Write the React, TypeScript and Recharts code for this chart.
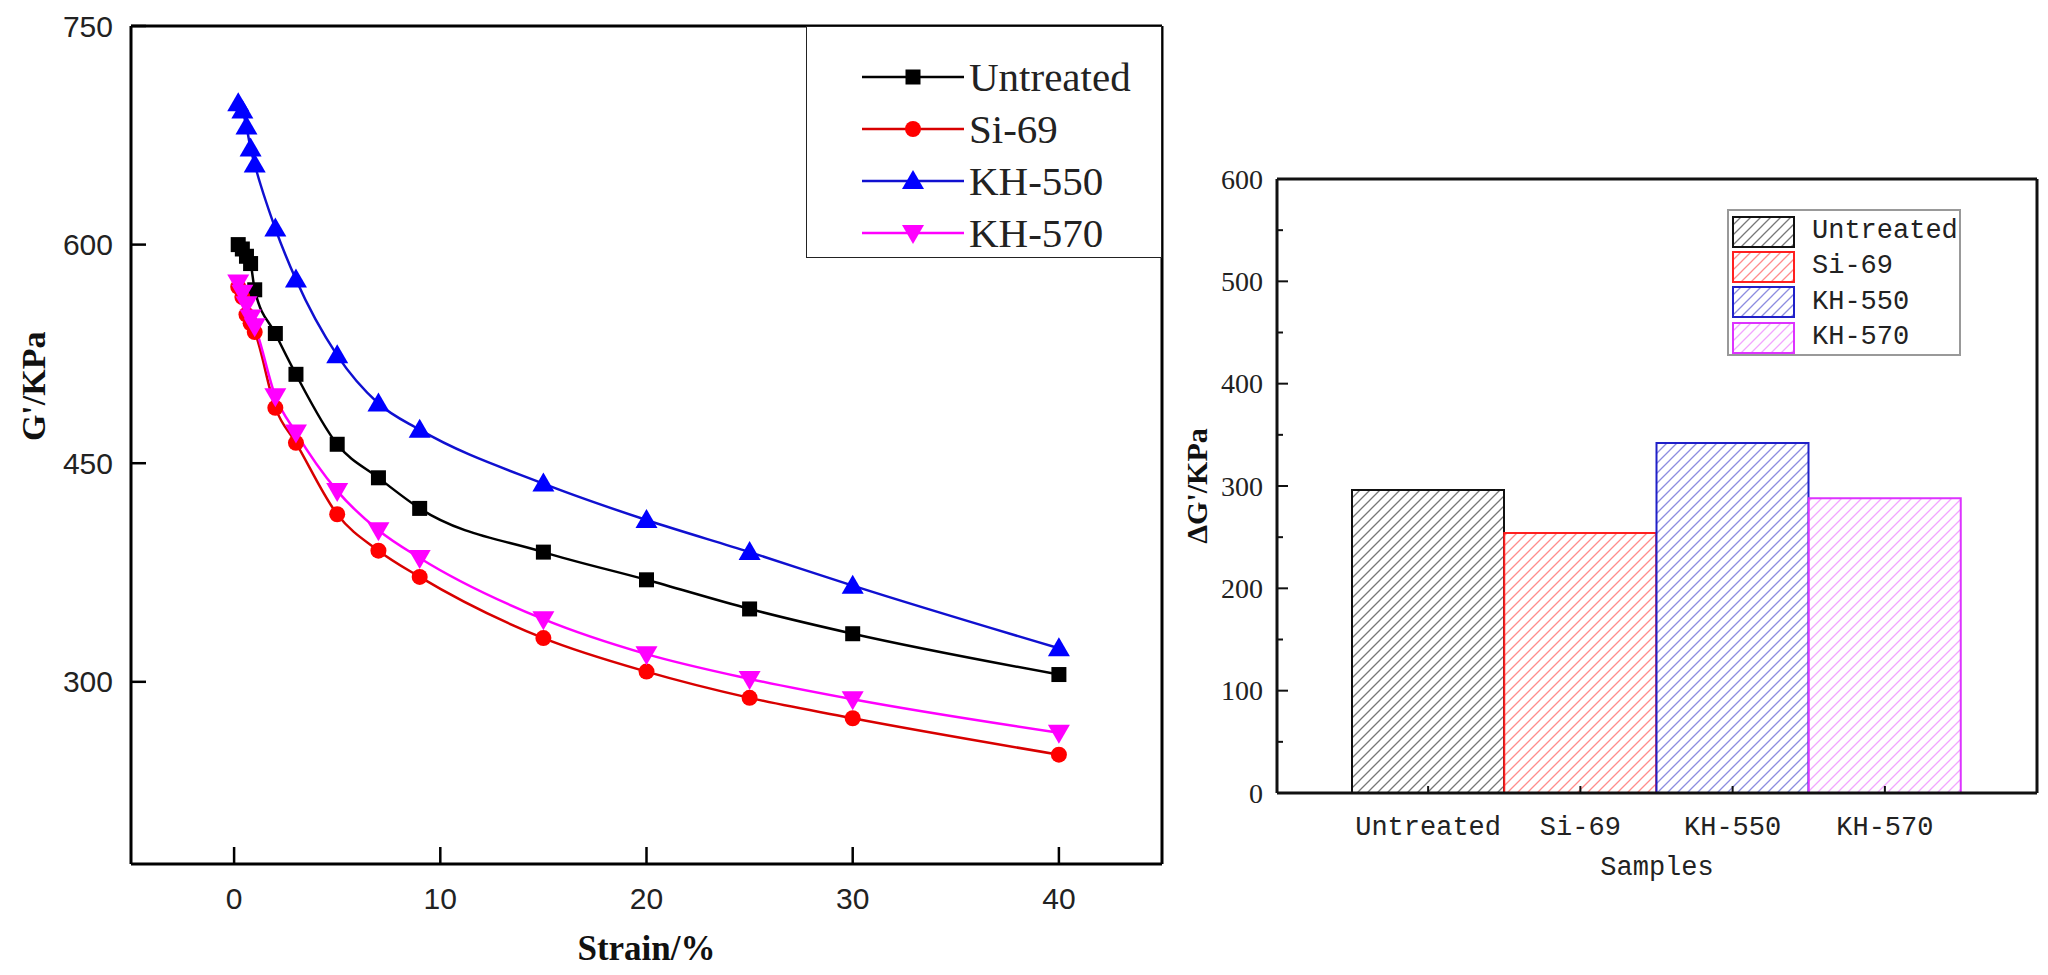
import React from "react";
import { LineChart, Line, BarChart, Bar, Cell, XAxis, YAxis, Legend } from "recharts";

// ─── Data ────────────────────────────────────────────────────────────────────

const STRAIN = [0.2, 0.4, 0.6, 0.8, 1, 2, 3, 5, 7, 9, 15, 20, 25, 30, 40];
const G_UNTREATED = [600, 597, 592, 587, 569, 539, 511, 463, 440, 419, 389, 370, 350, 333, 305];
const G_SI69 = [571, 564, 552, 546, 540, 488, 464, 415, 390, 372, 330, 307, 289, 275, 250];
const G_KH550 = [697, 692, 681, 666, 655, 611, 576, 524, 491, 473, 436, 411, 389, 366, 323];
const G_KH570 = [574, 567, 559, 550, 544, 496, 471, 431, 404, 385, 343, 319, 302, 288, 265];
const STRAIN_TICKS = [0, 10, 20, 30, 40];
const G_TICKS = [300, 450, 600, 750];

const SAMPLES = ["Untreated", "Si-69", "KH-550", "KH-570"];
const DELTA_G = [296, 254, 342, 288];
const DELTA_TICKS = [0, 50, 100, 150, 200, 250, 300, 350, 400, 450, 500, 550, 600];

// ─── Styles ──────────────────────────────────────────────────────────────────

const SERIES = [
  { name: "Untreated", values: G_UNTREATED, line: "#000000", mark: "#000000", shape: "square" },
  { name: "Si-69", values: G_SI69, line: "#d80000", mark: "#ff0000", shape: "circle" },
  { name: "KH-550", values: G_KH550, line: "#1010d0", mark: "#0000ff", shape: "up" },
  { name: "KH-570", values: G_KH570, line: "#ff00ff", mark: "#ff00ff", shape: "down" },
];

const BAR_STYLE = [
  { stroke: "#111111", hatch: "#777777" },
  { stroke: "#ff2020", hatch: "#ff8c8c" },
  { stroke: "#2020c8", hatch: "#8c8ce0" },
  { stroke: "#dd33ff", hatch: "#f2a6ff" },
];

const SANS = "'Liberation Sans', Arial, sans-serif";
const SERIF = "'Liberation Serif', 'Times New Roman', serif";
const MONO = "'Liberation Mono', 'DejaVu Sans Mono', monospace";

// ─── Markers ─────────────────────────────────────────────────────────────────

function Marker({ cx, cy, shape, color }: { cx?: number; cy?: number; shape: string; color: string }) {
  if (cx == null || cy == null) return null;
  if (shape === "square") return <rect x={cx - 7.5} y={cy - 7.5} width={15} height={15} fill={color} />;
  if (shape === "circle") return <circle cx={cx} cy={cy} r={8} fill={color} />;
  if (shape === "up") return <polygon points={`${cx},${cy - 11} ${cx - 11},${cy + 8} ${cx + 11},${cy + 8}`} fill={color} />;
  return <polygon points={`${cx - 11},${cy - 8} ${cx + 11},${cy - 8} ${cx},${cy + 11}`} fill={color} />;
}

// ─── Left chart pieces ───────────────────────────────────────────────────────

function StrainTick({ x, y, payload }: any) {
  return (
    <g>
      <line x1={x} x2={x} y1={y} y2={y - 17} stroke="#000" strokeWidth={2.5} />
      <text x={x} y={y + 34} dy="0.35em" textAnchor="middle" fontFamily={SANS} fontSize={30} fill="#222">
        {payload.value}
      </text>
    </g>
  );
}

function GTick({ x, y, payload }: any) {
  return (
    <g>
      <line x1={x} x2={x + 15} y1={y} y2={y} stroke="#000" strokeWidth={2.5} />
      <text x={x - 18} y={y} dy="0.35em" textAnchor="end" fontFamily={SANS} fontSize={30} fill="#222">
        {payload.value}
      </text>
    </g>
  );
}

function GTitle({ viewBox }: any) {
  const x = viewBox.x + 34;
  const y = viewBox.y + viewBox.height * 0.43;
  return (
    <text x={x} y={y} transform={`rotate(-90 ${x} ${y})`} textAnchor="middle" dominantBaseline="central"
      fontFamily={SERIF} fontWeight="bold" fontSize={34} fill="#111">
      G'/KPa
    </text>
  );
}

function StrainTitle({ viewBox }: any) {
  return (
    <text x={viewBox.x + viewBox.width / 2} y={viewBox.y + 84} textAnchor="middle" dominantBaseline="central"
      fontFamily={SERIF} fontWeight="bold" fontSize={35} fill="#111">
      Strain/%
    </text>
  );
}

function LineLegend({ payload }: any) {
  // keep the series order instead of the legend's alphabetical sort
  const names = (payload ?? []).map((entry: any) => entry.value);
  const rows = SERIES.filter((s) => names.includes(s.name));
  return (
    <div style={{ boxSizing: "border-box", width: "100%", height: "100%", border: "1.5px solid #222", paddingTop: 24, background: "#fff" }}>
      {rows.map((s) => (
        <div key={s.name} style={{ display: "flex", alignItems: "center", height: 52, paddingLeft: 55 }}>
          <svg width={102} height={40}>
            <line x1={0} x2={102} y1={20} y2={20} stroke={s.line} strokeWidth={2.5} />
            <Marker cx={51} cy={20} shape={s.shape} color={s.mark} />
          </svg>
          <span style={{ marginLeft: 5, fontFamily: SERIF, fontSize: 41, color: "#222", lineHeight: 1 }}>{s.name}</span>
        </div>
      ))}
    </div>
  );
}

function StrainChart() {
  return (
    <LineChart width={1200} height={975} margin={{ top: 25, right: 37, bottom: 0, left: 0 }}>
      <XAxis dataKey="x" type="number" domain={[-5, 45]} ticks={STRAIN_TICKS} height={111}
        tickSize={0} tickMargin={0} tickLine={false} tick={<StrainTick />}
        axisLine={{ stroke: "#000", strokeWidth: 3 }} label={<StrainTitle />} />
      <XAxis xAxisId="top" orientation="top" type="number" domain={[-5, 45]} height={1}
        tick={false} tickLine={false} axisLine={{ stroke: "#000", strokeWidth: 3 }} />
      <YAxis type="number" domain={[175, 750]} ticks={G_TICKS} width={131}
        tickSize={0} tickMargin={0} tickLine={false} tick={<GTick />}
        axisLine={{ stroke: "#000", strokeWidth: 3 }} label={<GTitle />} />
      <YAxis yAxisId="right" orientation="right" type="number" domain={[175, 750]} width={1}
        tick={false} tickLine={false} axisLine={{ stroke: "#000", strokeWidth: 3 }} />
      <Legend layout="vertical" align="center" verticalAlign="middle" content={<LineLegend />}
        wrapperStyle={{ left: 806, top: 26, width: 356, height: 232 }} />
      {SERIES.map((s) => (
        <Line key={s.name} name={s.name} data={STRAIN.map((x, i) => ({ x, y: s.values[i] }))} dataKey="y"
          type="monotone" stroke={s.line} strokeWidth={2.5} isAnimationActive={false}
          dot={(p: any) => <Marker key={`${s.name}-${p.index}`} cx={p.cx} cy={p.cy} shape={s.shape} color={s.mark} />}
          activeDot={false} />
      ))}
    </LineChart>
  );
}

// ─── Right chart pieces ──────────────────────────────────────────────────────

function SampleTick({ x, y, payload }: any) {
  return (
    <g>
      <line x1={x} x2={x} y1={y} y2={y - 7} stroke="#111" strokeWidth={2} />
      <text x={x} y={y + 33} dy="0.35em" textAnchor="middle" fontFamily={MONO} fontSize={27} fill="#222">
        {payload.value}
      </text>
    </g>
  );
}

function DeltaTick({ x, y, payload }: any) {
  const major = payload.value % 100 === 0;
  return (
    <g>
      <line x1={x} x2={x + (major ? 11 : 6)} y1={y} y2={y} stroke="#111" strokeWidth={2} />
      {major && (
        <text x={x - 14} y={y} dy="0.35em" textAnchor="end" fontFamily={SERIF} fontSize={28} fill="#222">
          {payload.value}
        </text>
      )}
    </g>
  );
}

function DeltaTitle({ viewBox }: any) {
  const x = viewBox.x + 46;
  const y = viewBox.y + viewBox.height / 2;
  return (
    <text x={x} y={y} transform={`rotate(-90 ${x} ${y})`} textAnchor="middle" dominantBaseline="central"
      fontFamily={SERIF} fontWeight="bold" fontSize={30} fill="#111">
      ΔG'/KPa
    </text>
  );
}

function SamplesTitle({ viewBox }: any) {
  return (
    <text x={viewBox.x + viewBox.width / 2} y={viewBox.y + 75} textAnchor="middle" dominantBaseline="central"
      fontFamily={MONO} fontSize={27} fill="#222">
      Samples
    </text>
  );
}

function BarLegend() {
  return (
    <div style={{ boxSizing: "border-box", width: "100%", height: "100%", border: "2px solid #999", paddingTop: 3, background: "#fff" }}>
      {SAMPLES.map((name, i) => (
        <div key={name} style={{ display: "flex", alignItems: "center", height: 35.3, paddingLeft: 3 }}>
          <svg width={63} height={32}>
            <rect x={1} y={1} width={61} height={30} fill={`url(#hatch-${i})`} stroke={BAR_STYLE[i].stroke} strokeWidth={2} />
          </svg>
          <span style={{ marginLeft: 17, fontFamily: MONO, fontSize: 27, color: "#222", lineHeight: 1 }}>{name}</span>
        </div>
      ))}
    </div>
  );
}

function DeltaChart() {
  const data = SAMPLES.map((name, i) => ({ name, value: DELTA_G[i] }));
  return (
    <BarChart width={898} height={975} data={data} barCategoryGap={0} margin={{ top: 178, right: 10, bottom: 0, left: 0 }}>
      <defs>
        {BAR_STYLE.map((b, i) => (
          <pattern key={i} id={`hatch-${i}`} patternUnits="userSpaceOnUse" width={10} height={10}>
            <rect width={10} height={10} fill="#fff" />
            <path d="M-2,2 l4,-4 M0,10 l10,-10 M8,12 l4,-4" stroke={b.hatch} strokeWidth={1.3} />
          </pattern>
        ))}
      </defs>
      <XAxis dataKey="name" type="category" padding={{ left: 75, right: 76 }} height={182}
        tickSize={0} tickMargin={0} tickLine={false} tick={<SampleTick />}
        axisLine={{ stroke: "#111", strokeWidth: 3 }} label={<SamplesTitle />} />
      <XAxis xAxisId="top" orientation="top" height={1} tick={false} tickLine={false}
        axisLine={{ stroke: "#111", strokeWidth: 3 }} />
      <YAxis type="number" domain={[0, 600]} ticks={DELTA_TICKS} width={127} interval={0}
        tickSize={0} tickMargin={0} tickLine={false} tick={<DeltaTick />}
        axisLine={{ stroke: "#111", strokeWidth: 3 }} label={<DeltaTitle />} />
      <YAxis yAxisId="right" orientation="right" type="number" domain={[0, 600]} width={1}
        tick={false} tickLine={false} axisLine={{ stroke: "#111", strokeWidth: 3 }} />
      <Legend layout="vertical" align="center" verticalAlign="middle" content={<BarLegend />}
        wrapperStyle={{ left: 577, top: 209, width: 234, height: 147 }} />
      <Bar dataKey="value" isAnimationActive={false}>
        {data.map((d, i) => (
          <Cell key={d.name} fill={`url(#hatch-${i})`} stroke={BAR_STYLE[i].stroke} strokeWidth={2} />
        ))}
      </Bar>
    </BarChart>
  );
}

export default function App() {
  return (
    <div style={{ position: "relative", width: 2048, height: 975, background: "#fff", overflow: "hidden" }}>
      <style>{"body{margin:0}"}</style>
      <div style={{ position: "absolute", left: 0, top: 0 }}>
        <StrainChart />
      </div>
      <div style={{ position: "absolute", left: 1150, top: 0 }}>
        <DeltaChart />
      </div>
    </div>
  );
}
